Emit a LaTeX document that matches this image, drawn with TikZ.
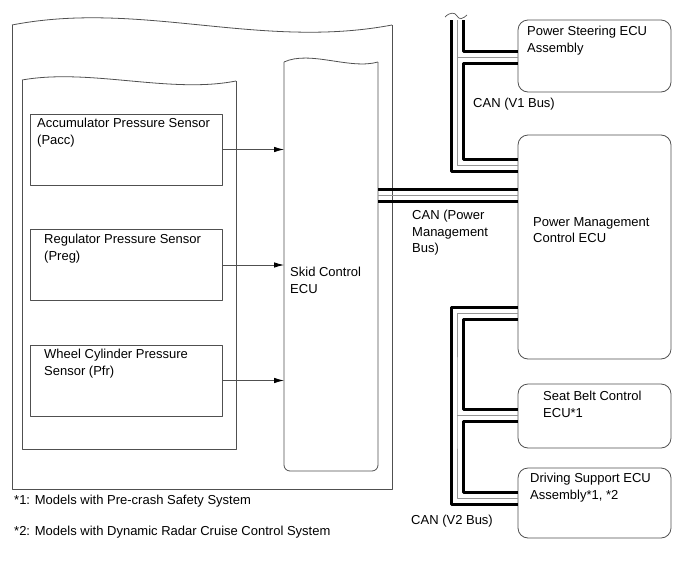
\documentclass[tikz,border=0pt]{standalone}
\usepackage{fontspec}
\setmainfont{Liberation Sans}
\usetikzlibrary{arrows.meta,calc}
\definecolor{lc}{RGB}{80,80,80}
\definecolor{bg}{RGB}{150,150,150}
\begin{document}
\begin{tikzpicture}[x=1pt,y=-1pt,line join=round,
  frame/.style={draw=lc,line width=0.8pt},
  ghost/.style={inner sep=0pt,outer sep=0pt},
  sbox/.style={frame,inner sep=0pt,minimum width=192pt,minimum height=71pt},
  ecubox/.style={frame,rounded corners=10pt,inner sep=0pt,minimum width=153pt},
  txt/.style={inner sep=0pt,anchor=north west,align=left,font=\fontsize{13}{16.5}\selectfont},
  bk/.style={line width=3pt,black},
  gr/.style={line width=0.9pt,bg},
  arr/.style={draw=lc,line width=0.8pt,-{Latex[length=10pt,width=5.5pt,color=black]}}]
\useasboundingbox (0,0) rectangle (690,562);
% outer system frame
\node[ghost,minimum width=380pt,minimum height=464pt] (sys) at (202,257) {};
\draw[frame] (12,25) .. controls (140,0) and (260,50) .. (392,25);
\draw[frame] (12,25) -- (12,489) -- (392,489) -- (392,25);
% sensor group
\node[ghost,minimum width=214pt,minimum height=369pt] (grp) at (129,264.5) {};
\draw[frame] (22,80) .. controls (90,68) and (170,94) .. (236,81);
\draw[frame] (22,80) -- (22,449) -- (236,449) -- (236,81);
% skid control ECU
\node[ghost,minimum width=94pt,minimum height=409pt] (skid) at (331,266.5) {};
\draw[frame] (284,62) .. controls (310,50) and (350,70) .. (378,62);
\draw[frame,rounded corners=6pt] (284,62) -- (284,471) -- (378,471) -- (378,62);
\node[txt] (skidt) at (290,267) {Skid Control\\ECU};
% sensors
\node[sbox] (acc) at (126,149.5) {};
\node[sbox] (reg) at (126,265) {};
\node[sbox] (whl) at (126,380.5) {};
\node[txt] (acct) at (37,118) {Accumulator Pressure Sensor\\(Pacc)};
\node[txt] (regt) at (44,234) {Regulator Pressure Sensor\\(Preg)};
\node[txt] (whlt) at (44,349) {Wheel Cylinder Pressure\\Sensor (Pfr)};
\draw[arr] (acc.east) -- (skid.west |- acc.east);
\draw[arr] (reg.east) -- (skid.west |- reg.east);
\draw[arr] (whl.east) -- (skid.west |- whl.east);
% right ECUs
\node[ecubox,minimum height=72pt] (ps) at (594.5,56) {};
\node[ecubox,minimum height=224pt] (pm) at (594.5,247) {};
\node[ecubox,minimum height=64pt] (sb) at (594.5,416) {};
\node[ecubox,minimum height=70pt] (ds) at (594.5,503) {};
\node[txt] (pst) at (527,26) {Power Steering ECU\\Assembly};
\node[txt] (pmt) at (533,217) {Power Management\\Control ECU};
\node[txt] (sbt) at (543,391) {Seat Belt Control\\ECU*1};
\node[txt] (dst) at (530,473) {Driving Support ECU\\Assembly*1, *2};
% bus labels
\node[txt] (canv1) at (473,98) {CAN (V1 Bus)};
\node[txt] (canpm) at (412,210) {CAN (Power\\Management\\Bus)};
\node[txt] (canv2) at (411,515) {CAN (V2 Bus)};
\node[txt] (fn1) at (14,495) {*1: Models with Pre-crash Safety System};
\node[txt] (fn2) at (14,526) {*2: Models with Dynamic Radar Cruise Control System};
% V1 bus
\coordinate (v1o) at (451,20);
\coordinate (v1g) at (457,20);
\coordinate (v1i) at (463,20);
\coordinate (psA) at ($(ps.north west)+(0,32)$);
\coordinate (psG) at ($(ps.north west)+(0,38)$);
\coordinate (psB) at ($(ps.north west)+(0,44)$);
\coordinate (pmA) at ($(pm.north west)+(0,25)$);
\coordinate (pmG) at ($(pm.north west)+(0,31)$);
\coordinate (pmO) at ($(pm.north west)+(0,37)$);
\draw[bk] (v1o) |- (pmO);
\draw[gr] (v1g) |- (pmG);
\draw[gr] (v1g |- psG) -- (psG);
\draw[bk] (v1i) |- (psA);
\draw[bk] (psB) -| (v1i |- pmA) -- (pmA);
\coordinate (brk) at (445,17);
\draw[lc,line width=0.7pt] (brk) .. controls (450,12) and (455,12) .. (457,16) .. controls (459,20) and (463,19) .. (467,15);
% power management bus
\coordinate (pmP1) at ($(pm.north west)+(0,55)$);
\coordinate (pmP2) at ($(pm.north west)+(0,61)$);
\coordinate (pmP3) at ($(pm.north west)+(0,67)$);
\draw[bk] (skid.east |- pmP1) -- (pmP1);
\draw[gr] (skid.east |- pmP2) -- (pmP2);
\draw[bk] (skid.east |- pmP3) -- (pmP3);
% V2 bus
\coordinate (v2o) at (451,400);
\coordinate (v2g) at (457,400);
\coordinate (v2i) at (463,400);
\coordinate (pm2O) at ($(pm.south west)+(0,-52)$);
\coordinate (pm2G) at ($(pm.south west)+(0,-46)$);
\coordinate (pm2I) at ($(pm.south west)+(0,-40)$);
\coordinate (sbA) at ($(sb.north west)+(0,26)$);
\coordinate (sbG) at ($(sb.north west)+(0,32)$);
\coordinate (sbB) at ($(sb.north west)+(0,38)$);
\coordinate (dsI) at ($(ds.north west)+(0,25)$);
\coordinate (dsG) at ($(ds.north west)+(0,31)$);
\coordinate (dsO) at ($(ds.north west)+(0,37)$);
\draw[bk] (pm2O) -| (v2o) |- (dsO);
\draw[gr] (pm2G) -| (v2g) |- (dsG);
\draw[gr] (v2g |- sbG) -- (sbG);
\draw[bk] (pm2I) -| (v2i |- sbA) -- (sbA);
\draw[bk] (sbB) -| (v2i |- dsI) -- (dsI);
\end{tikzpicture}
\end{document}
